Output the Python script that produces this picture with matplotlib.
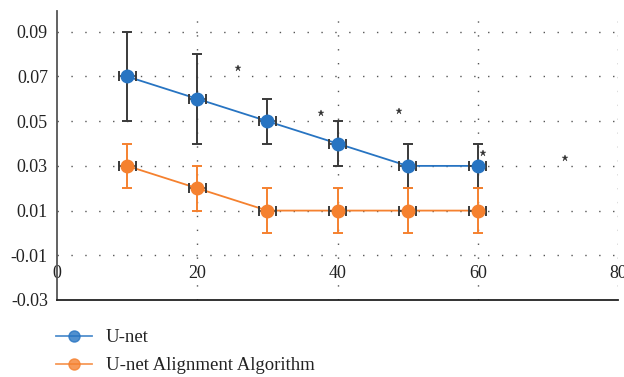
"""
    Segmentation error vs. sample size: U-net and U-net with alignment
"""

import matplotlib
import matplotlib.pyplot as plt

matplotlib.use('agg')

plt.rcParams['font.family'] = ['Liberation Serif', 'DejaVu Serif']

# measured values
xVals = [10, 20, 30, 40, 50, 60]
xErr = [1.2, 1.2, 1.2, 1.2, 1.2, 1.2]
unetY = [0.07, 0.06, 0.05, 0.04, 0.03, 0.03]
unetErr = [0.02, 0.02, 0.01, 0.01, 0.01, 0.01]
alignY = [0.03, 0.02, 0.01, 0.01, 0.01, 0.01]
alignErr = [0.01, 0.01, 0.01, 0.01, 0.01, 0.01]

# outlier points
starX = [25.8, 37.7, 48.7, 60.7, 72.5]
starY = [0.0736, 0.0536, 0.0545, 0.0358, 0.0336]

xTicks = [0, 20, 40, 60, 80]
yTicks = [-0.03, -0.01, 0.01, 0.03, 0.05, 0.07, 0.09]
yTickLabels = ['-0.03', '-0.01', '0.01', '0.03', '0.05', '0.07', '0.09']

blue = '#2774c2'
orange = '#f5812f'
errGrey = '#3a3a3a'
fontSize = 13

fig = plt.figure(figsize=(6.24, 3.77), dpi=100)
ax = fig.add_axes([57 / 624, 1 - 300 / 377, 561 / 624, 289 / 377])

# dotted grid
gridStyle = dict(color='#555555', linewidth=1.0, linestyle=(0, (1, 9)))
for yv in yTicks[1:]:
    ax.axhline(yv, zorder=0, **gridStyle)
for xv in xTicks[1:]:
    ax.axvline(xv, zorder=0, **gridStyle)

# U-net series
ax.plot(xVals, unetY, '-', color=blue, linewidth=1.3, zorder=2)
ax.errorbar(xVals, unetY, yerr=unetErr, fmt='none', ecolor=errGrey,
            elinewidth=1.4, capsize=3.8, capthick=1.4, zorder=3)
ax.errorbar(xVals, unetY, xerr=xErr, fmt='none', ecolor=errGrey,
            elinewidth=1.2, capsize=3.3, capthick=1.4, zorder=3)
ax.plot(xVals, unetY, 'o', color=blue, markersize=9, zorder=4,
        label='U-net')

# U-net Alignment Algorithm series
ax.plot(xVals, alignY, '-', color=orange, linewidth=1.3, zorder=5)
ax.errorbar(xVals, alignY, yerr=alignErr, fmt='none', ecolor=orange,
            elinewidth=1.4, capsize=3.8, capthick=1.4, zorder=6)
ax.errorbar(xVals, alignY, xerr=xErr, fmt='none', ecolor=errGrey,
            elinewidth=1.2, capsize=3.3, capthick=1.4, zorder=6)
ax.plot(xVals, alignY, 'o', color=orange, markersize=9, zorder=7,
        label='U-net Alignment Algorithm')

ax.plot(starX, starY, '*', color='#333333', markersize=4.5, linestyle='none',
        markeredgewidth=0.3, zorder=3)

ax.set_xlim(0, 80)
ax.set_ylim(-0.03, 0.0993)
ax.set_xticks(xTicks)
ax.set_yticks(yTicks)
ax.set_yticklabels(yTickLabels)
ax.tick_params(axis='x', length=0, pad=-25, labelsize=fontSize,
               colors='#222222')
ax.tick_params(axis='y', length=0, pad=6.5, labelsize=fontSize,
               colors='#222222')

ax.spines['top'].set_visible(False)
ax.spines['right'].set_visible(False)
ax.spines['left'].set_color('#555555')
ax.spines['left'].set_linewidth(1.3)
ax.spines['bottom'].set_color('#222222')
ax.spines['bottom'].set_linewidth(1.3)

# legend below the axes
handles = [
    plt.Line2D([], [], color=blue, alpha=0.8, linewidth=1.3, marker='o',
               markersize=8, markerfacecolor=blue, markeredgecolor=blue),
    plt.Line2D([], [], color=orange, alpha=0.8, linewidth=1.3, marker='o',
               markersize=8, markerfacecolor=orange, markeredgecolor=orange),
]
fig.legend(handles, ['U-net', 'U-net Alignment Algorithm'],
           loc='upper left', bbox_to_anchor=(56 / 624, 1 - 329 / 377),
           frameon=False, fontsize=13.5, handlelength=1.9,
           handletextpad=0.75, borderpad=0, borderaxespad=0,
           labelspacing=0.6, labelcolor='#222222')

fig.savefig('out.png', dpi=100)
